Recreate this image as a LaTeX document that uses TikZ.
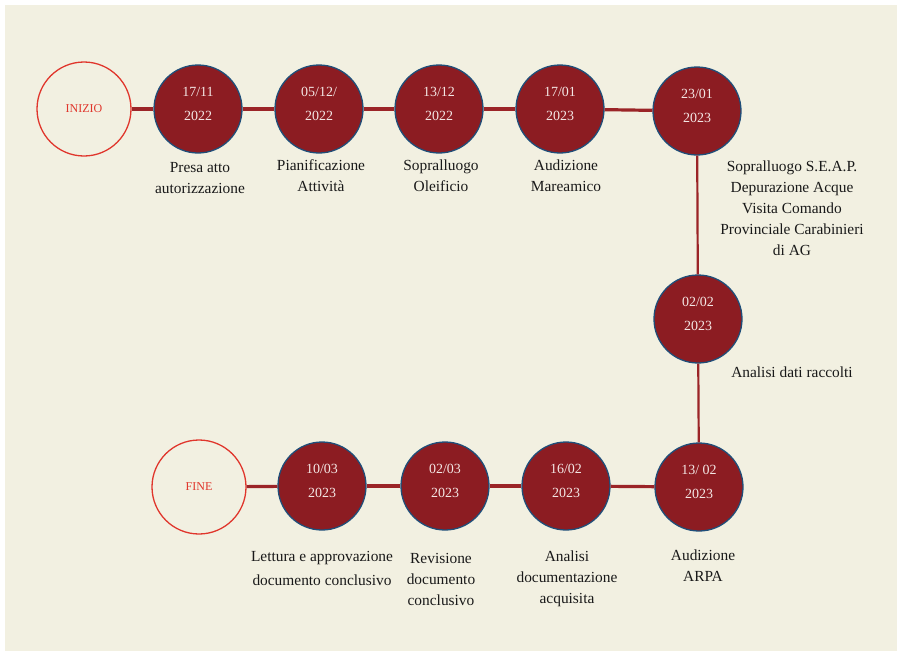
\documentclass[tikz,border=0pt]{standalone}
\usepackage{fontspec}
\setmainfont{Liberation Serif}
\usetikzlibrary{positioning}
\definecolor{bgcream}{HTML}{F2F0E1}
\definecolor{darkred}{HTML}{8C1C22}
\definecolor{rimblue}{HTML}{1F4E79}
\definecolor{linered}{HTML}{9B2427}
\definecolor{endred}{HTML}{E0362C}
\definecolor{datewhite}{HTML}{F3E6E4}
\begin{document}
\begin{tikzpicture}[x=1pt,y=-1pt,
  datecirc/.style={circle,draw=rimblue,line width=1.3pt,fill=darkred,minimum size=88pt,inner sep=0pt,text=datewhite,align=center,text depth=10pt,font=\fontsize{14}{24}\selectfont},
  endcirc/.style={circle,draw=endred,line width=1.3pt,fill=bgcream,minimum size=94pt,inner sep=0pt,text=endred,font=\fontsize{12}{14}\selectfont},
  lbl/.style={align=center,inner sep=0pt,text=black!90,font=\fontsize{15.4}{21}\selectfont},
  hlink/.style={linered,line width=3.2pt},
  vlink/.style={linered,line width=2.2pt}]
\useasboundingbox (0,0) rectangle (897,651);
\fill[white] (0,0) rectangle (897,651);
\fill[bgcream] (5,5) rectangle (897,651);
\node[endcirc] (inizio) at (84,109) {INIZIO};
\node[datecirc] (d1) at (198,109) {17/11\\2022};
\node[datecirc] (d2) at (319,109) {05/12/\\2022};
\node[datecirc] (d3) at (439,109) {13/12\\2022};
\node[datecirc] (d4) at (560,109) {17/01\\2023};
\node[datecirc] (d5) at (697,111) {23/01\\2023};
\node[datecirc] (d6) at (698,319) {02/02\\2023};
\node[datecirc] (d7) at (699,487) {13/ 02\\2023};
\node[datecirc] (d8) at (566,486) {16/02\\2023};
\node[datecirc] (d9) at (445,486) {02/03\\2023};
\node[datecirc] (d10) at (322,486) {10/03\\2023};
\node[endcirc] (fine) at (199,487) {FINE};
\foreach \a/\b in {inizio/d1,d1/d2,d2/d3,d3/d4,d4/d5,d7/d8,d8/d9,d9/d10,d10/fine}
\draw[hlink] (\a) -- (\b);
\draw[vlink] (d5) -- (d6);
\draw[vlink] (d6) -- (d7);
\node[lbl] (l1) at (200,178) {Presa atto\\autorizzazione};
\node[lbl] (l2) at (321,176) {Pianificazione\\Attività};
\node[lbl] (l3) at (441,176) {Sopralluogo\\Oleificio};
\node[lbl] (l4) at (566,176) {Audizione\\Mareamico};
\node[lbl] (l5) at (792,208) {Sopralluogo S.E.A.P.\\Depurazione Acque\\Visita Comando\\Provinciale Carabinieri\\di AG};
\node[lbl] (l6) at (792,372) {Analisi dati raccolti};
\node[lbl] (l7) at (703,566) {Audizione\\ARPA};
\node[lbl] (l8) at (567,579) {Analisi\\documentazione\\acquisita};
\node[lbl] (l9) at (441,579) {Revisione\\documento\\conclusivo};
\node[lbl,font=\fontsize{15.4}{24}\selectfont] (l10) at (322,568) {Lettura e approvazione\\documento conclusivo};
\end{tikzpicture}
\end{document}
